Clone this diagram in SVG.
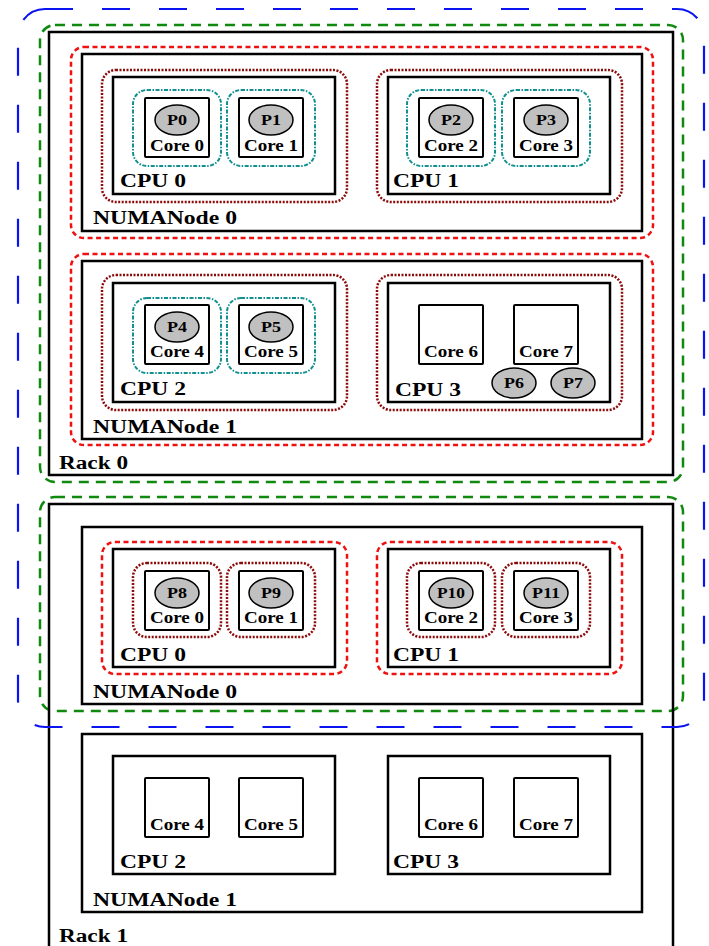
<svg xmlns="http://www.w3.org/2000/svg" width="709" height="946" viewBox="0 0 709 946">
<style>
.box{fill:none;stroke:#000;stroke-width:2.5}
.core{fill:none;stroke:#000;stroke-width:2}
.proc{fill:#c0c0c0;stroke:#000;stroke-width:1.5}
.blue{fill:none;stroke:#0a14f0;stroke-width:2.2;stroke-dasharray:28 29}
.green{fill:none;stroke:#0f8a0f;stroke-width:2.5;stroke-dasharray:10 7}
.red{fill:none;stroke:#f01010;stroke-width:2.5;stroke-dasharray:5 3.5}
.maroon{fill:none;stroke:#8b0a0a;stroke-width:2.5;stroke-dasharray:2 1.5}
.teal{fill:none;stroke:#129090;stroke-width:2;stroke-dasharray:4 1.5 1.5 1.5}
text{font-family:"Liberation Serif","Times New Roman",serif;font-weight:bold;fill:#000}
.lbl{font-size:18.5px}
.cl{font-size:16px;text-anchor:middle}
.pl{font-size:14px;text-anchor:middle}
</style>
<rect x="0" y="0" width="709" height="946" fill="#fff"/>

<g id="rack0">
<rect class="green" x="40" y="25" width="643" height="457" rx="15"/>
<rect class="box" x="49" y="32" width="624" height="443"/>
<text class="lbl" x="59" y="469" textLength="69" lengthAdjust="spacingAndGlyphs">Rack 0</text>
</g>

<g id="rack0-numa0">
<rect class="red" x="71" y="47" width="582" height="191" rx="13"/>
<rect class="box" x="82" y="54" width="560" height="177"/>
<text class="lbl" x="93" y="224" textLength="144" lengthAdjust="spacingAndGlyphs">NUMANode 0</text>
</g>
<g id="rack0-cpu0">
<rect class="maroon" x="102" y="70" width="245" height="132" rx="14"/>
<rect class="box" x="113" y="77" width="222" height="117"/>
<text class="lbl" x="120" y="187" textLength="66" lengthAdjust="spacingAndGlyphs">CPU 0</text>
</g>
<g id="rack0-core0">
<rect class="teal" x="133" y="90" width="88" height="76" rx="14"/>
<rect class="core" x="145" y="98" width="64" height="59" rx="1"/>
<ellipse class="proc" cx="177" cy="120" rx="22" ry="15"/>
<text class="pl" x="177" y="125" textLength="20" lengthAdjust="spacingAndGlyphs">P0</text>
<text class="cl" x="177" y="151" textLength="54" lengthAdjust="spacingAndGlyphs">Core 0</text>
</g>
<g id="rack0-core1">
<rect class="teal" x="227" y="90" width="88" height="76" rx="14"/>
<rect class="core" x="239" y="98" width="64" height="59" rx="1"/>
<ellipse class="proc" cx="271" cy="120" rx="22" ry="15"/>
<text class="pl" x="271" y="125" textLength="20" lengthAdjust="spacingAndGlyphs">P1</text>
<text class="cl" x="271" y="151" textLength="54" lengthAdjust="spacingAndGlyphs">Core 1</text>
</g>
<g id="rack0-cpu1">
<rect class="maroon" x="377" y="70" width="245" height="132" rx="14"/>
<rect class="box" x="388" y="77" width="222" height="117"/>
<text class="lbl" x="393" y="187" textLength="66" lengthAdjust="spacingAndGlyphs">CPU 1</text>
</g>
<g id="rack0-core2">
<rect class="teal" x="407" y="90" width="88" height="76" rx="14"/>
<rect class="core" x="419" y="98" width="64" height="59" rx="1"/>
<ellipse class="proc" cx="451" cy="120" rx="22" ry="15"/>
<text class="pl" x="451" y="125" textLength="20" lengthAdjust="spacingAndGlyphs">P2</text>
<text class="cl" x="451" y="151" textLength="54" lengthAdjust="spacingAndGlyphs">Core 2</text>
</g>
<g id="rack0-core3">
<rect class="teal" x="502" y="90" width="88" height="76" rx="14"/>
<rect class="core" x="514" y="98" width="64" height="59" rx="1"/>
<ellipse class="proc" cx="546" cy="120" rx="22" ry="15"/>
<text class="pl" x="546" y="125" textLength="20" lengthAdjust="spacingAndGlyphs">P3</text>
<text class="cl" x="546" y="151" textLength="54" lengthAdjust="spacingAndGlyphs">Core 3</text>
</g>

<g id="rack0-numa1">
<rect class="red" x="71" y="254" width="582" height="191" rx="13"/>
<rect class="box" x="82" y="261" width="560" height="178"/>
<text class="lbl" x="93" y="433" textLength="144" lengthAdjust="spacingAndGlyphs">NUMANode 1</text>
</g>
<g id="rack0-cpu2">
<rect class="maroon" x="102" y="275" width="245" height="135" rx="14"/>
<rect class="box" x="113" y="283" width="222" height="119"/>
<text class="lbl" x="120" y="395" textLength="66" lengthAdjust="spacingAndGlyphs">CPU 2</text>
</g>
<g id="rack0-core4">
<rect class="teal" x="133" y="298" width="88" height="75" rx="14"/>
<rect class="core" x="145" y="305" width="64" height="59" rx="1"/>
<ellipse class="proc" cx="177" cy="327" rx="22" ry="15"/>
<text class="pl" x="177" y="332" textLength="20" lengthAdjust="spacingAndGlyphs">P4</text>
<text class="cl" x="177" y="357" textLength="54" lengthAdjust="spacingAndGlyphs">Core 4</text>
</g>
<g id="rack0-core5">
<rect class="teal" x="227" y="298" width="88" height="75" rx="14"/>
<rect class="core" x="239" y="305" width="64" height="59" rx="1"/>
<ellipse class="proc" cx="271" cy="327" rx="22" ry="15"/>
<text class="pl" x="271" y="332" textLength="20" lengthAdjust="spacingAndGlyphs">P5</text>
<text class="cl" x="271" y="357" textLength="54" lengthAdjust="spacingAndGlyphs">Core 5</text>
</g>
<g id="rack0-cpu3">
<rect class="maroon" x="377" y="275" width="245" height="135" rx="14"/>
<rect class="box" x="388" y="283" width="222" height="119"/>
<text class="lbl" x="395" y="396" textLength="66" lengthAdjust="spacingAndGlyphs">CPU 3</text>
</g>
<g id="rack0-core6">
<rect class="core" x="419" y="305" width="64" height="59" rx="1"/>
<text class="cl" x="451" y="357" textLength="54" lengthAdjust="spacingAndGlyphs">Core 6</text>
</g>
<g id="rack0-core7">
<rect class="core" x="514" y="305" width="64" height="59" rx="1"/>
<text class="cl" x="546" y="357" textLength="54" lengthAdjust="spacingAndGlyphs">Core 7</text>
</g>
<g id="p6">
<ellipse class="proc" cx="514" cy="383" rx="22" ry="15"/>
<text class="pl" x="514" y="388" textLength="20" lengthAdjust="spacingAndGlyphs">P6</text>
</g>
<g id="p7">
<ellipse class="proc" cx="573" cy="383" rx="22" ry="15"/>
<text class="pl" x="573" y="388" textLength="20" lengthAdjust="spacingAndGlyphs">P7</text>
</g>

<g id="rack1">
<rect class="green" x="40" y="497" width="643" height="214" rx="15"/>
<rect class="box" x="49" y="504" width="624" height="460"/>
<text class="lbl" x="59" y="942" textLength="69" lengthAdjust="spacingAndGlyphs">Rack 1</text>
</g>

<g id="rack1-numa0">
<rect class="box" x="82" y="527" width="560" height="177"/>
<text class="lbl" x="93" y="698" textLength="144" lengthAdjust="spacingAndGlyphs">NUMANode 0</text>
</g>
<g id="rack1-cpu0">
<rect class="red" x="102" y="542" width="245" height="132" rx="13"/>
<rect class="box" x="113" y="549" width="222" height="118"/>
<text class="lbl" x="120" y="661" textLength="66" lengthAdjust="spacingAndGlyphs">CPU 0</text>
</g>
<g id="rack1-core0">
<rect class="maroon" x="133" y="563" width="88" height="74" rx="14"/>
<rect class="core" x="145" y="571" width="64" height="59" rx="1"/>
<ellipse class="proc" cx="177" cy="593" rx="22" ry="15"/>
<text class="pl" x="177" y="598" textLength="20" lengthAdjust="spacingAndGlyphs">P8</text>
<text class="cl" x="177" y="623" textLength="54" lengthAdjust="spacingAndGlyphs">Core 0</text>
</g>
<g id="rack1-core1">
<rect class="maroon" x="227" y="563" width="88" height="74" rx="14"/>
<rect class="core" x="239" y="571" width="64" height="59" rx="1"/>
<ellipse class="proc" cx="271" cy="593" rx="22" ry="15"/>
<text class="pl" x="271" y="598" textLength="20" lengthAdjust="spacingAndGlyphs">P9</text>
<text class="cl" x="271" y="623" textLength="54" lengthAdjust="spacingAndGlyphs">Core 1</text>
</g>
<g id="rack1-cpu1">
<rect class="red" x="377" y="542" width="245" height="132" rx="13"/>
<rect class="box" x="388" y="549" width="222" height="118"/>
<text class="lbl" x="393" y="661" textLength="66" lengthAdjust="spacingAndGlyphs">CPU 1</text>
</g>
<g id="rack1-core2">
<rect class="maroon" x="407" y="563" width="88" height="74" rx="14"/>
<rect class="core" x="419" y="571" width="64" height="59" rx="1"/>
<ellipse class="proc" cx="451" cy="593" rx="22" ry="15"/>
<text class="pl" x="451" y="598" textLength="28" lengthAdjust="spacingAndGlyphs">P10</text>
<text class="cl" x="451" y="623" textLength="54" lengthAdjust="spacingAndGlyphs">Core 2</text>
</g>
<g id="rack1-core3">
<rect class="maroon" x="502" y="563" width="88" height="74" rx="14"/>
<rect class="core" x="514" y="571" width="64" height="59" rx="1"/>
<ellipse class="proc" cx="546" cy="593" rx="22" ry="15"/>
<text class="pl" x="546" y="598" textLength="28" lengthAdjust="spacingAndGlyphs">P11</text>
<text class="cl" x="546" y="623" textLength="54" lengthAdjust="spacingAndGlyphs">Core 3</text>
</g>

<g id="rack1-numa1">
<rect class="box" x="82" y="734" width="560" height="178"/>
<text class="lbl" x="93" y="906" textLength="144" lengthAdjust="spacingAndGlyphs">NUMANode 1</text>
</g>
<g id="rack1-cpu2">
<rect class="box" x="113" y="756" width="222" height="118"/>
<text class="lbl" x="120" y="868" textLength="66" lengthAdjust="spacingAndGlyphs">CPU 2</text>
</g>
<g id="rack1-core4">
<rect class="core" x="145" y="778" width="64" height="59" rx="1"/>
<text class="cl" x="177" y="830" textLength="54" lengthAdjust="spacingAndGlyphs">Core 4</text>
</g>
<g id="rack1-core5">
<rect class="core" x="239" y="778" width="64" height="59" rx="1"/>
<text class="cl" x="271" y="830" textLength="54" lengthAdjust="spacingAndGlyphs">Core 5</text>
</g>
<g id="rack1-cpu3">
<rect class="box" x="388" y="756" width="222" height="118"/>
<text class="lbl" x="393" y="868" textLength="66" lengthAdjust="spacingAndGlyphs">CPU 3</text>
</g>
<g id="rack1-core6">
<rect class="core" x="419" y="778" width="64" height="59" rx="1"/>
<text class="cl" x="451" y="830" textLength="54" lengthAdjust="spacingAndGlyphs">Core 6</text>
</g>
<g id="rack1-core7">
<rect class="core" x="514" y="778" width="64" height="59" rx="1"/>
<text class="cl" x="546" y="830" textLength="54" lengthAdjust="spacingAndGlyphs">Core 7</text>
</g>

<g id="outer-group">
<rect class="blue" x="18" y="9" width="686" height="718" rx="27"/>
</g>
<g id="connectors"/>
</svg>
